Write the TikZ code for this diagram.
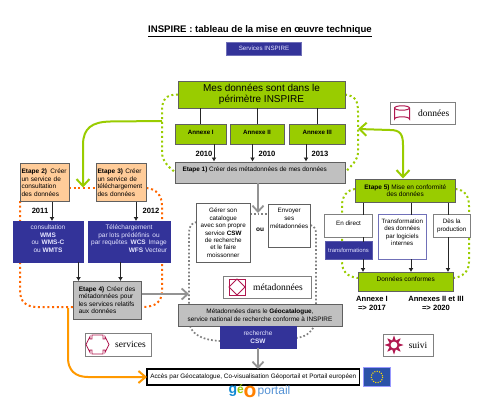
\documentclass[tikz,border=0pt]{standalone}
\usepackage{fontspec}
\setmainfont{Liberation Sans}
\newfontfamily\serifleg{Liberation Serif}
\usetikzlibrary{arrows.meta,shapes.geometric,backgrounds}
\definecolor{igreen}{HTML}{99CC00}
\definecolor{iblue}{HTML}{333399}
\definecolor{ipeach}{HTML}{FFCC99}
\definecolor{igrey}{HTML}{C0C0C0}
\definecolor{iorange}{HTML}{FF6600}
\definecolor{iarrow}{HTML}{FF9900}
\definecolor{icrim}{HTML}{B0174F}
\definecolor{iline}{HTML}{606060}
\newcommand{\bx}[7][]{%
  \pgfmathsetmacro{\bxw}{#5-#3}\pgfmathsetmacro{\bxh}{#6-#4}%
  \pgfmathsetmacro{\bxcx}{(#5+#3)/2}\pgfmathsetmacro{\bxcy}{(#6+#4)/2}%
  \node[basebox,minimum width=\bxw pt,minimum height=\bxh pt,#1] (#2) at (\bxcx,\bxcy) {#7};}
\tikzset{
  basebox/.style={draw=iline,line width=0.9pt,inner sep=1pt,outer sep=0pt,align=center,font=\fontsize{6.5}{7.5}\selectfont},
  greenbox/.style={fill=igreen},
  bluebox/.style={fill=iblue,draw=iblue,text=white!90!blue},
  peachbox/.style={fill=ipeach,draw=iline},
  greybox/.style={fill=igrey,draw=iline},
  whitebox/.style={fill=white,draw=iline},
  legendbox/.style={fill=white,draw=gray,font=\fontsize{9.5}{10}\serifleg\selectfont},
  thin arrow/.style={line width=0.8pt,draw=black!85,-{Latex[length=4pt,width=5pt]}},
  thin line/.style={line width=0.8pt,draw=black!85},
  grey arrow/.style={line width=1.8pt,draw=gray!85,-{Straight Barb[length=6pt,width=11pt,line width=1.8pt]}},
  green arrow/.style={line width=2pt,draw=igreen,-{Straight Barb[length=7pt,width=13pt,line width=2pt]}},
  green dots/.style={line width=2pt,draw=igreen,dash pattern=on 2pt off 2.7pt},
  orange dots/.style={line width=2pt,draw=iorange,dash pattern=on 2pt off 2.7pt},
  grey dots/.style={line width=1.7pt,draw=gray,dash pattern=on 1.7pt off 2.1pt},
  year/.style={font=\bfseries\fontsize{7.6}{9}\selectfont,inner sep=0pt},
  crim/.style={draw=icrim,line width=1pt,fill=white},
}
\begin{document}
\begin{tikzpicture}[x=1pt,y=-1pt]
\useasboundingbox (0,0) rectangle (480,410);

% title
\node[font=\bfseries\fontsize{9.6}{11}\selectfont,inner sep=0pt,text=black] (title) at (260,31.5) {\underline{INSPIRE : tableau de la mise en œuvre technique}};
\bx[bluebox,draw=iblue!70!white,font=\fontsize{6.2}{7}\selectfont]{serv}{226.5}{42.5}{301.5}{55}{Services INSPIRE}

\coordinate (gl) at (162,130);
\coordinate (gr) at (358,127);
\bx[greenbox,font=\fontsize{10}{11.2}\selectfont]{mes}{178}{81}{345}{108}{Mes données sont dans le\\ périmètre INSPIRE}
\bx[greenbox,font=\bfseries\fontsize{6.2}{7}\selectfont,text depth=3pt]{an1}{175.5}{124}{226}{144}{Annexe I}
\bx[greenbox,font=\bfseries\fontsize{6.2}{7}\selectfont,text depth=3pt]{an2}{230}{124}{284}{144}{Annexe II}
\bx[greenbox,font=\bfseries\fontsize{6.2}{7}\selectfont,text depth=3pt]{an3}{289}{124}{345.5}{144}{Annexe III}
\bx[greybox,text depth=7pt,line width=1pt,font=\fontsize{6.4}{7.5}\selectfont]{et1}{175.5}{162}{345}{183}{\textbf{Etape 1)} Créer des métadonnées de mes données\hspace*{11pt}}

\draw[thin line] (mes.south -| an1) -- (an1);
\draw[thin line] (mes.south -| an2) -- (an2);
\draw[thin line] (mes.south -| an3) -- (an3);
\draw[thin arrow] (an1.south -| 214,0) -- (214,161.5);
\draw[thin arrow] (an2.south -| 252.5,0) -- (252.5,161.5);
\draw[thin arrow] (an3.south -| 306,0) -- (306,161.5);
\node[year] (y1) at (204,154) {2010};
\node[year] (y2) at (267,154) {2010};
\node[year] (y3) at (320,154) {2013};

% steps 2 and 3
\bx[peachbox,text width=46pt,align=left]{et2}{20}{163.5}{69}{201.5}{\textbf{Etape 2)}\, Créer un service de consultation des données}
\bx[peachbox,text width=47.5pt,align=left]{et3}{96}{163.5}{146.5}{201.5}{\textbf{Etape 3)} Créer un service de téléchargement des données}
\bx[bluebox,text depth=5.5pt]{wms}{13}{221}{83}{262}{consultation\\ \textbf{WMS}\\ ou \,\textbf{WMS-C}\\ ou \textbf{WMTS}}
\bx[bluebox,text depth=5.5pt]{wcs}{88}{221}{170}{262}{Téléchargement\\ par lots prédéfinis \,ou\\ par requêtes \,\textbf{WCS}\, Image\\ \hspace*{38pt}\textbf{WFS} Vecteur}
\bx[greybox,text width=57pt,align=left]{et4}{73}{281}{141.5}{319}{\textbf{Etape 4)} Créer des métadonnées pour les services relatifs aux données}

\draw[thin arrow] (et2.south -| 52,0) -- (wms.north -| 52,0);
\draw[thin arrow] (et3.south -| 136,0) -- (wcs.north -| 136,0);
\node[year] (y4) at (40,211) {2011};
\node[year] (y5) at (151,211) {2012};
\draw[thin arrow] (wms.south -| 78.5,0) -- (et4.north -| 78.5,0);
\draw[thin arrow] (wcs.south -| 120.5,0) -- (et4.north -| 120.5,0);

% centre
\bx[whitebox,font=\fontsize{6.3}{7.45}\selectfont]{ger}{196.5}{203.5}{250}{262}{Gérer son\\ catalogue\\ avec son propre\\ service \textbf{CSW}\\ de recherche\\ et le faire\\ moissonner}
\bx[whitebox,font=\fontsize{6.3}{7.7}\selectfont,text depth=14.5pt]{env}{268}{204}{310.5}{247.5}{Envoyer\\ ses\\ métadonnées}
\node[font=\bfseries\fontsize{6.5}{7.5}\selectfont,inner sep=0pt] (ou) at (260,230) {ou};
\bx[greybox,font=\fontsize{6.4}{7.4}\selectfont]{meta}{178}{304}{342}{326}{Métadonnées dans le \textbf{Géocatalogue},\\ service national de recherche conforme à INSPIRE}
\bx[bluebox]{rech}{220}{326}{296}{348}{recherche\\ \textbf{CSW}}
\bx[legendbox]{lmeta}{223}{276.5}{311}{298}{\hspace*{22pt}métadonnées}

\draw[grey arrow] (et1.south -| 258,0) -- (258,213);
\draw[grey arrow] (et4.east |- 0,294) -- (189,294);

% bottom
\bx[draw=black,line width=1.3pt,font=\fontsize{6.4}{7.5}\selectfont,fill=white]{acc}{147}{369}{359.5}{385}{Accès par Géocatalogue, Co-visualisation Géoportail et Portail européen}
\draw[grey arrow] (rech.south -| 258,0) -- (acc.north -| 258,0);
\draw[iarrow,line width=2pt,-{Straight Barb[length=7pt,width=12pt,line width=2pt]}] (68,308) -- (68,358) .. controls (68,370) and (75,377) .. (88,377) -- (acc.west);
\bx[fill=iblue!85!cyan,draw=blue!40!white,line width=0.6pt]{eu}{363.5}{367.5}{390.5}{386.5}{}
\draw[yellow!80!orange,line width=1.1pt,dash pattern=on 1.1pt off 1.3pt] (eu) circle (5.7);

\node[font=\bfseries\fontsize{14}{15}\selectfont,text=cyan!70!blue,inner sep=0pt] (lg) at (233,391) {g};
\node[font=\bfseries\fontsize{12}{13}\selectfont,text=igreen,inner sep=0pt] (le) at (240.5,389) {é};
\node[font=\bfseries\fontsize{21}{22}\selectfont,text=orange,inner sep=0pt] (lo) at (250,391.5) {o};
\node[font=\fontsize{12}{13}\selectfont,text=cyan!55!blue!70!white,inner sep=0pt] (lp) at (274,391) {portail};

% step 5
\bx[greenbox,font=\fontsize{6.5}{7.5}\selectfont]{et5}{355}{179}{455.5}{202.5}{\textbf{Etape 5)} Mise en conformité\\ des données}
\bx[whitebox,draw=gray,text depth=6pt,font=\fontsize{6.3}{7.5}\selectfont]{dir}{324.5}{214.5}{372.5}{237}{En direct}
\bx[bluebox,draw=iblue!80!white,font=\fontsize{5.9}{7}\selectfont]{tra}{325}{241.5}{372}{259}{transformations}
\bx[whitebox,draw=iblue!70!white,text depth=9pt,font=\fontsize{6.2}{7.5}\selectfont]{trf}{378}{214.5}{426.5}{259}{Transformation\\ des données\\ par logiciels\\ internes}
\bx[whitebox,draw=gray,font=\fontsize{6.3}{7.5}\selectfont]{des}{433.5}{214.5}{470}{237}{Dès la\\ production}
\bx[greenbox,font=\fontsize{6.5}{7.5}\selectfont,text depth=5pt,line width=1pt]{conf}{358}{272}{453.5}{291.5}{Données conformes}

\draw[thin line] (et5.south -| 363,0) -- (dir.north -| 363,0);
\draw[thin line] (et5.south -| 411,0) -- (trf.north -| 411,0);
\draw[thin line] (et5.south -| 448,0) -- (des.north -| 448,0);
\draw[thin arrow] (tra.south -| 363,0) -- (conf.north -| 363,0);
\draw[thin line] (dir.south -| 363,0) -- (tra.north -| 363,0);
\draw[thin arrow] (trf.south -| 411,0) -- (conf.north -| 411,0);
\draw[thin arrow] (des.south -| 448,0) -- (conf.north -| 448,0);
\node[year,align=center,font=\bfseries\fontsize{7.6}{9.2}\selectfont] (a1) at (372,303.5) {Annexe I\\ => 2017};
\node[year,align=center,font=\bfseries\fontsize{7.6}{9.2}\selectfont] (a2) at (436,303.5) {Annexes II et III\\ => 2020};

% legends
\bx[legendbox]{ldon}{390}{102.5}{455.5}{124}{\hspace*{22pt}données}
\bx[legendbox]{lser}{85}{333.5}{151}{356}{\hspace*{25pt}services}
\bx[legendbox]{lsui}{383}{334}{433}{356}{\hspace*{20pt}suivi}

% dotted envelopes, behind the boxes
\begin{scope}[on background layer]
\draw[green dots] (mes.west) .. controls (165,94.5) and (162,100) .. (162,112) -- (gl) -- (162,152) .. controls (162,160) and (167,166) .. (et1.west);
\draw[green dots] (mes.east) .. controls (355,96) and (358,100) .. (358,112) -- (gr) -- (358,152) .. controls (358,160) and (352,165) .. (et1.east);
\draw[orange dots] (et2.east |- 0,188) -- (et3.west |- 0,188);
\draw[orange dots] (et3.east |- 0,188) .. controls (156,189) and (162,195) .. (162,206) -- (162,290) .. controls (162,302) and (156,307) .. (et4.east |- 0,307);
\draw[orange dots] (et2.west |- 0,201) -- (20,290) .. controls (20,302) and (26,307) .. (38,307) -- (et4.west |- 0,307);
\draw[grey dots] (ger.east |- 0,214) -- (env.west |- 0,214);
\draw[grey dots] (env.east |- 0,225) .. controls (314,226) and (316,229) .. (316,234) -- (meta.north -| 316,0);
\draw[grey dots] (ger.west |- 0,222) .. controls (191,223) and (189,227) .. (189,233) -- (meta.north -| 189,0);
\draw[grey dots] (meta.south -| 190,0) .. controls (193,335) and (203,340) .. (rech.west |- 0,341);
\draw[grey dots] (rech.east |- 0,338) .. controls (305,337) and (311,333) .. (meta.south -| 314,0);
\draw[green dots] (et5.west |- 0,189) .. controls (347,190) and (342,196) .. (342,206) -- (342,262) .. controls (342,272) and (348,277) .. (conf.west |- 0,278);
\draw[green dots] (et5.east |- 0,189) .. controls (465,190) and (469,196) .. (469,206) -- (469,262) .. controls (469,272) and (462,277) .. (conf.east |- 0,278);
\end{scope}
\draw[green arrow] (gl |- 0,121) -- (110,121.5) .. controls (92,122) and (83,128) .. (83,145) -- (83,187.5);
\draw[green arrow,{Straight Barb[length=7pt,width=13pt,line width=2pt]}-{Straight Barb[length=7pt,width=13pt,line width=2pt]}] (gr |- 0,129) -- (390,130) .. controls (400,130) and (403,134) .. (403,145) -- (403,178.5);

% icons
\draw[crim] (394.5,108) -- (394.5,119) arc[start angle=180,end angle=360,x radius=7.5,y radius=2.2] -- (409.5,108);
\draw[crim] (402,108) ellipse (7.5 and 2.2);
\draw[crim] (229,279) rectangle (245,295);
\draw[crim] (237,279) -- (245,287) -- (237,295) -- (229,287) -- cycle;
\draw[crim,line width=0.8pt] (92,335)--(103,335)--(103,339)--(105,339)--(105,336.5)--(109,344.5)--(105,352.5)--(105,350)--(103,350)--(103,354)--(92,354)--(92,350)--(90,350)--(90,352.5)--(86,344.5)--(90,336.5)--(90,339)--(92,339)--cycle;
\node[star,star points=8,star point ratio=2,minimum size=19pt,inner sep=0pt,fill=icrim] (sun) at (394,345) {};
\fill[white] (sun) circle (3.4);
\end{tikzpicture}
\end{document}
